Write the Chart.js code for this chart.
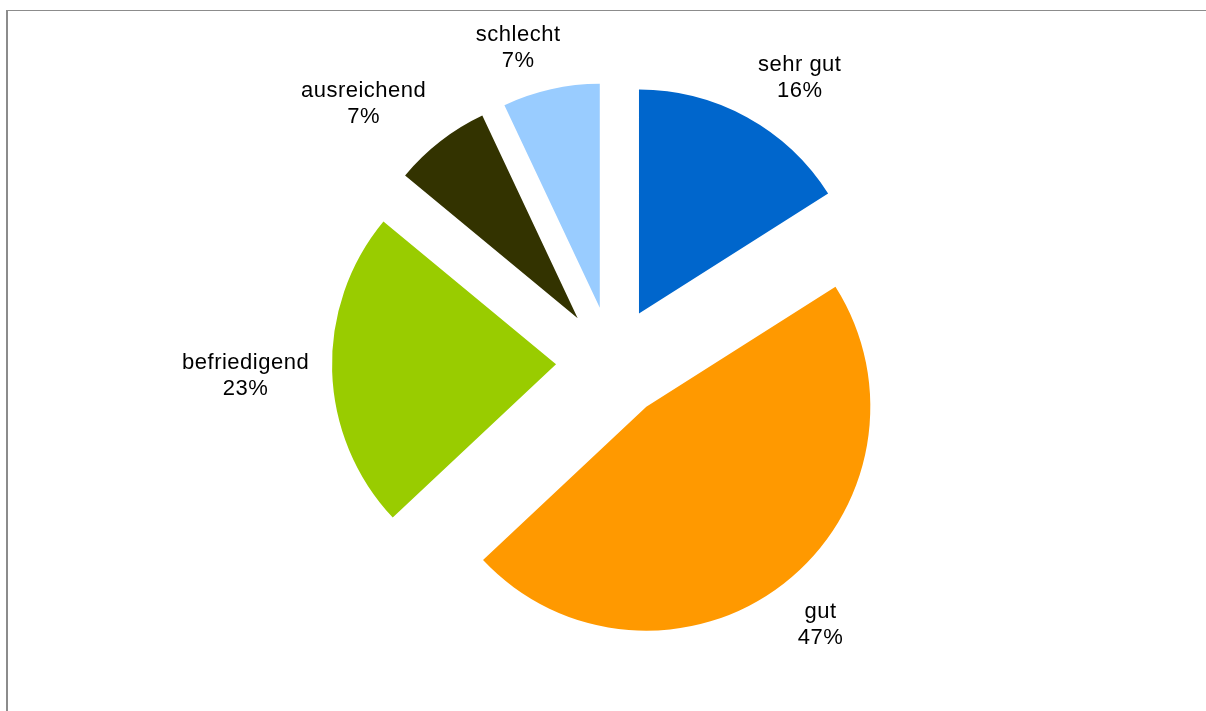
<!DOCTYPE html>
<html>
<head>
<meta charset="utf-8">
<title>Bewertung</title>
<script src="https://cdn.jsdelivr.net/npm/chart.js@4"></script>
<style>
  html, body { margin: 0; padding: 0; background: #fff; }
  #wrap { width: 1206px; height: 711px; }
</style>
</head>
<body>
<div id="wrap">
  <canvas id="gradeChart" width="1206" height="711"></canvas>
</div>
<script>
// Grades and their share in percent
const grades = ['sehr gut', 'gut', 'befriedigend', 'ausreichend', 'schlecht'];
const shares = [16, 47, 23, 7, 7];
const gradeColors = ['#0066CC', '#FF9900', '#99CC00', '#333300', '#99CCFF'];

const EXPLODE = 56;      // how far each slice is pulled out from the centre
const PIE_RADIUS = 224;
const LABEL_GAP = 23;    // space between slice edge and its label
const LABEL_FONT = '22px "Liberation Sans", Arial, sans-serif';
const LINE_HEIGHT = 26;

// Pull every slice out along its own bisector (equal distance for all slices)
const explodePlugin = {
  id: 'explode',
  afterDatasetUpdate(chart, args) {
    const meta = chart.getDatasetMeta(args.index);
    meta.data.forEach(arc => {
      const mid = (arc.startAngle + arc.endAngle) / 2;
      arc.x += Math.cos(mid) * EXPLODE;
      arc.y += Math.sin(mid) * EXPLODE;
    });
  }
};

const clamp1 = v => Math.max(-1, Math.min(1, v));

// Outer labels: name on the first line, percentage below
const outsideLabels = {
  id: 'outsideLabels',
  afterDatasetsDraw(chart) {
    const ctx = chart.ctx;
    const ds = chart.data.datasets[0];
    const total = ds.data.reduce((a, b) => a + b, 0);
    const meta = chart.getDatasetMeta(0);
    ctx.save();
    ctx.font = LABEL_FONT;
    ctx.letterSpacing = '0.5px';
    ctx.fillStyle = '#000';
    ctx.textAlign = 'center';
    ctx.textBaseline = 'alphabetic';
    meta.data.forEach((arc, i) => {
      const mid = (arc.startAngle + arc.endAngle) / 2;
      const ux = Math.cos(mid), uy = Math.sin(mid);
      const dist = arc.outerRadius + LABEL_GAP;
      const ax = arc.x + ux * dist;
      const ay = arc.y + uy * dist;
      const lines = [chart.data.labels[i], Math.round(ds.data[i] / total * 100) + '%'];
      const w = Math.max(...lines.map(t => ctx.measureText(t).width));
      const ascent = 16;
      const h = ascent + LINE_HEIGHT;
      // push the text box outwards so its inner corner sits at the anchor
      const cx = ax + clamp1(ux * 3) * w / 2;
      const cy = ay + clamp1(uy * 2.5) * h / 2;
      const top = cy - h / 2 + ascent;
      lines.forEach((t, k) => ctx.fillText(t, cx, top + k * LINE_HEIGHT));
    });
    ctx.restore();
  }
};

// Grey frame edge along the top and left
const framePlugin = {
  id: 'frame',
  beforeDraw(chart) {
    const ctx = chart.ctx;
    ctx.save();
    ctx.fillStyle = '#8c8c8c';
    ctx.fillRect(6, 10, chart.width - 6, 1);
    ctx.fillRect(6, 10, 2, chart.height - 10);
    ctx.restore();
  }
};

new Chart(document.getElementById('gradeChart'), {
  type: 'pie',
  data: {
    labels: grades,
    datasets: [{
      data: shares,
      backgroundColor: gradeColors,
      borderWidth: 0
    }]
  },
  options: {
    responsive: false,
    animation: false,
    radius: PIE_RADIUS,
    layout: { padding: { left: 18, top: 14, right: 0, bottom: 0 } },
    plugins: {
      legend: { display: false },
      tooltip: { enabled: false }
    }
  },
  plugins: [explodePlugin, outsideLabels, framePlugin]
});
</script>
</body>
</html>
